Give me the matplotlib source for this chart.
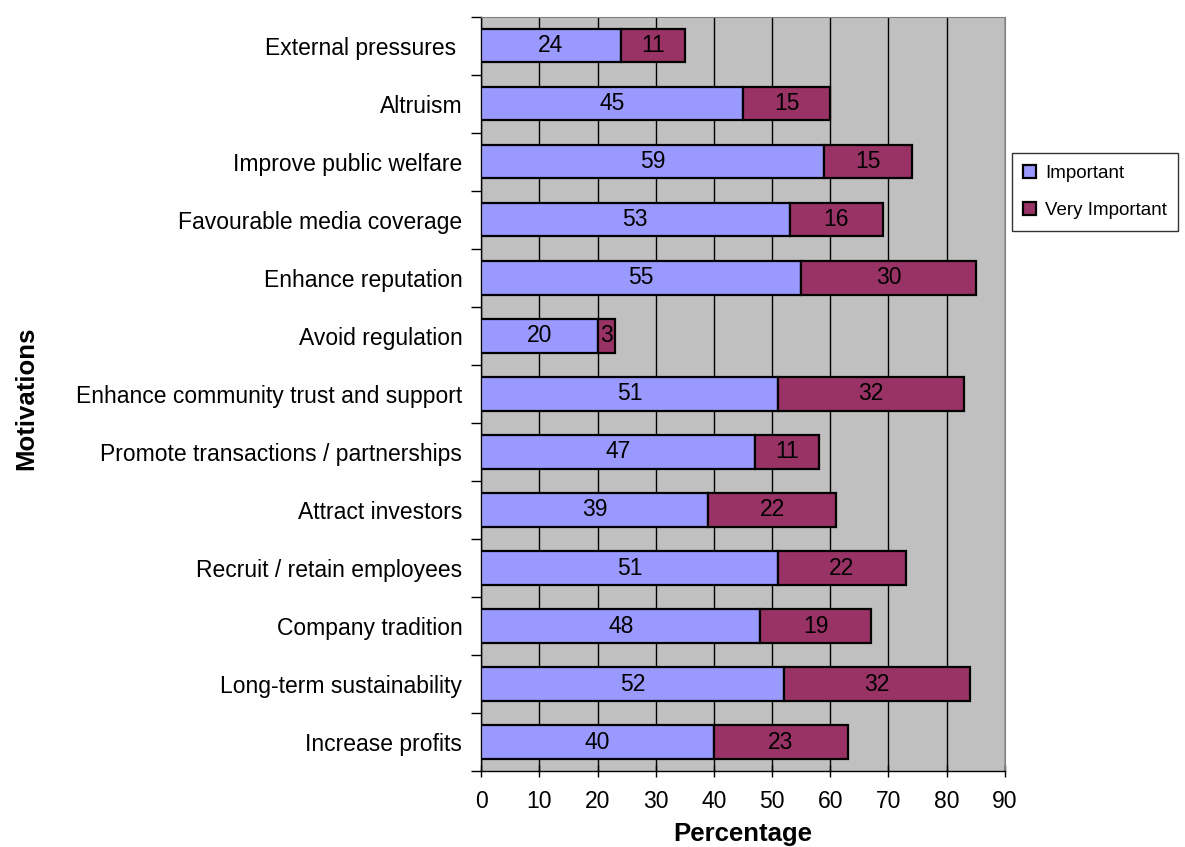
import matplotlib
matplotlib.use("Agg")
import matplotlib.pyplot as plt
import numpy as np

plt.rcParams['font.family'] = ['Liberation Sans', 'DejaVu Sans']

# data, top to bottom as in the picture
motivations = ["External pressures ", "Altruism", "Improve public welfare",
               "Favourable media coverage", "Enhance reputation", "Avoid regulation",
               "Enhance community trust and support", "Promote transactions / partnerships",
               "Attract investors", "Recruit / retain employees", "Company tradition",
               "Long-term sustainability", "Increase profits"]
important = [24, 45, 59, 53, 55, 20, 51, 47, 39, 51, 48, 52, 40]
very_important = [11, 15, 15, 16, 30, 3, 32, 11, 22, 22, 19, 32, 23]

fig = plt.figure(figsize=(11.85, 8.47), dpi=100)
ax = fig.add_axes([0.406, 0.0897, 0.442, 0.8903])
ax.set_facecolor('#C0C0C0')

n = len(motivations)
y = np.arange(n)[::-1]
bh = 0.57
b1 = ax.barh(y, important, height=bh, color='#9999FF', edgecolor='black',
             linewidth=1.6, label='Important', zorder=3)
b2 = ax.barh(y, very_important, left=important, height=bh, color='#993366',
             edgecolor='black', linewidth=1.6, label='Very Important', zorder=3)
ax.bar_label(b1, label_type='center', fontsize=16.5, color='black')
ax.bar_label(b2, label_type='center', fontsize=16.5, color='black')

ax.set_xlim(0, 90)
ax.set_ylim(-0.5, n - 0.5)
ax.set_xticks(np.arange(0, 91, 10))
ax.xaxis.grid(True, color='black', linewidth=1)
ax.set_axisbelow(True)
ax.set_yticks(y)
ax.set_yticklabels(motivations)
ax.set_yticks(np.arange(-0.5, n, 1), minor=True)
ax.tick_params(axis='y', which='major', length=0, pad=13.5, labelsize=16.5)
ax.tick_params(axis='y', which='minor', length=7, width=1, direction='out')
ax.tick_params(axis='x', length=8, width=1, direction='inout', labelsize=16.5, pad=10)

for s in ['top', 'right']:
    ax.spines[s].set_color('#808080')
ax.spines['left'].set_linewidth(1)
ax.spines['bottom'].set_linewidth(1)

ax.set_xlabel('Percentage', fontsize=18.5, fontweight='bold', labelpad=6)
fig.text(0.022, 0.53, 'Motivations', rotation=90, fontsize=18.5, fontweight='bold',
         va='center', ha='center')

leg = fig.legend(handles=[b1, b2], loc='upper left', bbox_to_anchor=(0.854, 0.819),
                 borderaxespad=0, frameon=True, fancybox=False, fontsize=13.5,
                 handlelength=0.7, handleheight=0.7, handletextpad=0.45,
                 borderpad=0.6, labelspacing=1.1)
leg.get_frame().set_edgecolor('black')
leg.get_frame().set_linewidth(1)

fig.savefig('out.png', dpi=100)
